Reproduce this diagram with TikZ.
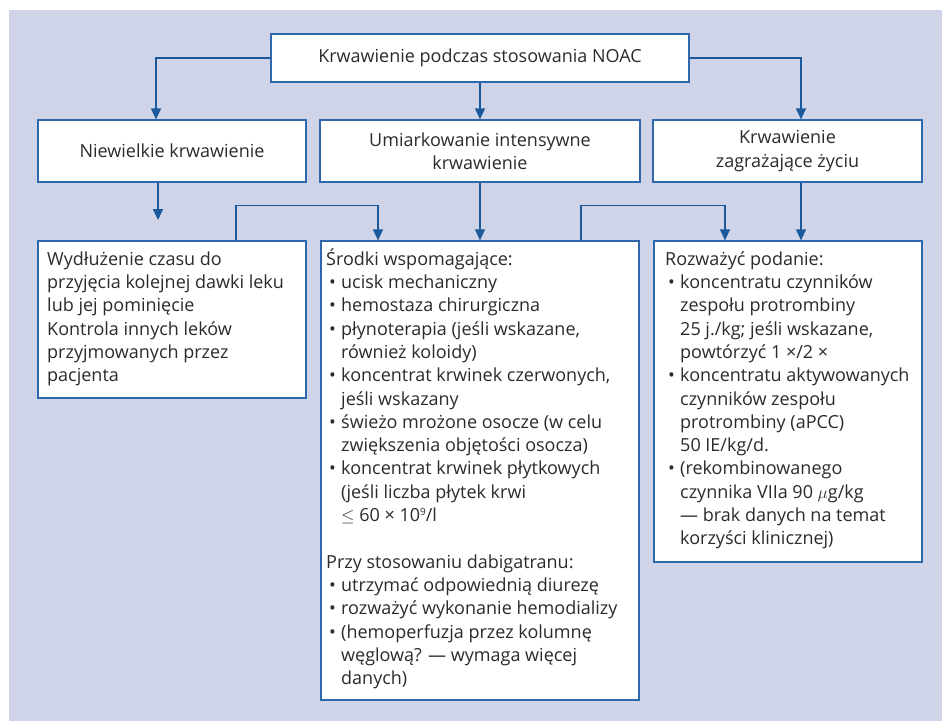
\documentclass[tikz,border=0pt]{standalone}
\usepackage{fontspec}
\setmainfont{Open Sans}
\usetikzlibrary{arrows.meta,calc}
\definecolor{bg}{HTML}{CFD4E8}
\definecolor{ln}{HTML}{1A5A9C}
\definecolor{bd}{HTML}{2E67AA}
\definecolor{tx}{HTML}{2B2B2B}
\newcommand\mybul{\hspace*{3pt}\makebox[12pt][l]{\textbullet}}
\newcommand\mycont{\hspace*{15pt}}
\newcommand\firstline{\rule{0pt}{18pt}}
\newcommand\mysup[1]{\raisebox{6.5pt}{\fontsize{10}{10}\selectfont #1}}
\begin{document}
\begin{tikzpicture}[x=1pt,y=-1pt,
  box/.style={draw=bd, line width=1.2pt, fill=white, inner sep=0pt},
  txt/.style={text=tx, font=\fontsize{18}{23.3}\selectfont, inner sep=0pt},
  arr/.style={draw=ln, line width=1.2pt, -{Triangle[width=10pt,length=11pt]}},
  ]
\useasboundingbox (0,0) rectangle (942,721);
\fill[bg] (9,10) rectangle (942,721);

% boxes
\node[box, txt, align=center, minimum width=418pt, minimum height=48pt] (top) at (480,58) {Krwawienie podczas stosowania NOAC};
\node[box, txt, align=center, minimum width=268pt, minimum height=62pt] (r1) at (172,151) {Niewielkie krwawienie};
\node[box, txt, align=center, minimum width=320pt, minimum height=62pt] (r2) at (480,151) {Umiarkowanie intensywne\\krwawienie};
\node[box, txt, align=center, minimum width=269pt, minimum height=62pt] (r3) at (787.5,151) {Krwawienie\\zagrażające życiu};
\node[box, minimum width=268pt, minimum height=157pt] (b1) at (172,319.5) {};
\node[box, minimum width=318pt, minimum height=459pt] (b2) at (480,470.5) {};
\node[box, minimum width=268pt, minimum height=321pt] (b3) at (788,401.5) {};

% texts
\node[txt, anchor=north west, align=left] (t1) at (47,247) {\firstline Wydłużenie czasu do\\
przyjęcia kolejnej dawki leku\\
lub jej pominięcie\\
Kontrola innych leków\\
przyjmowanych przez\\
pacjenta};

\node[txt, anchor=north west, align=left] (t2) at (326,247) {\firstline Środki wspomagające:\\
\mybul ucisk mechaniczny\\
\mybul hemostaza chirurgiczna\\
\mybul płynoterapia (jeśli wskazane,\\
\mycont również koloidy)\\
\mybul koncentrat krwinek czerwonych,\\
\mycont jeśli wskazany\\
\mybul świeżo mrożone osocze (w celu\\
\mycont zwiększenia objętości osocza)\\
\mybul koncentrat krwinek płytkowych\\
\mycont (jeśli liczba płytek krwi\\
\mycont $\leq$ 60 × 10\mysup{9}/l\\
\mbox{}\\
Przy stosowaniu dabigatranu:\\
\mybul utrzymać odpowiednią diurezę\\
\mybul rozważyć wykonanie hemodializy\\
\mybul (hemoperfuzja przez kolumnę\\
\mycont węglową? — wymaga więcej\\
\mycont danych)};

\node[txt, anchor=north west, align=left] (t3) at (665,247) {\firstline Rozważyć podanie:\\
\mybul koncentratu czynników\\
\mycont zespołu protrombiny\\
\mycont 25 j./kg; jeśli wskazane,\\
\mycont powtórzyć 1 ×/2 ×\\
\mybul koncentratu aktywowanych\\
\mycont czynników zespołu\\
\mycont protrombiny (aPCC)\\
\mycont 50 IE/kg/d.\\
\mybul (rekombinowanego\\
\mycont czynnika VIIa 90 $\mu$g/kg\\
\mycont — brak danych na temat\\
\mycont korzyści klinicznej)};

% connectors
\coordinate (e1) at (158,220);
\draw[arr] (top.west) -| ([xshift=-16pt]r1.north);
\draw[arr] (top.south) -- (r2.north);
\draw[arr] (top.east) -| ([xshift=13.5pt]r3.north);
\draw[arr] ([xshift=-14pt]r1.south) -- (e1);
\draw[arr] ([xshift=64pt]b1.north) -- ++(0,-35) -| ([xshift=-102pt]b2.north);
\draw[arr] (r2.south) -- (b2.north);
\draw[arr] ([xshift=101pt]b2.north) -- ++(0,-35) -| ([xshift=-63pt]b3.north);
\draw[arr] ([xshift=13.5pt]r3.south) -- ([xshift=13pt]b3.north);
\end{tikzpicture}
\end{document}
